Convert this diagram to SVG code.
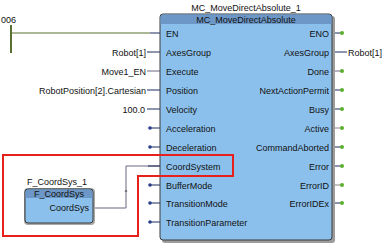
<svg xmlns="http://www.w3.org/2000/svg" width="392" height="248" viewBox="0 0 392 248">
  <style>
    text { font-family: "Liberation Sans", Arial, sans-serif; font-size: 9px; fill: #111; }
    .r { text-anchor: end; }
    .m { text-anchor: middle; }
    .body { fill: #8cc0ec; stroke: #3a3a3a; stroke-width: 1; }
    .shadow { fill: #9c9c9c; }
    .head { fill: #6c97c6; }
    .w { stroke: #1c2a5c; stroke-width: 1; fill: none; }
    .wg { stroke: #6e6480; stroke-width: 1; fill: none; }
    .in { fill: #2a3f8a; }
    .out { fill: #5cb02c; }
    .hl { fill: none; stroke: #e8201c; stroke-width: 2; }
  </style>

  <!-- power rail contact -->
  <g id="rail">
    <text x="1" y="23">006</text>
    <line x1="11" y1="25" x2="11" y2="53" stroke="#5a7032" stroke-width="2"/>
  </g>

  <!-- connectors -->
  <g id="connectors">
    <line x1="11" y1="33" x2="150" y2="33" stroke="#5a7032" stroke-width="1"/>
    <line x1="150" y1="33" x2="160" y2="33" class="w"/>
    <line x1="147" y1="52" x2="160" y2="52" class="w"/>
    <line x1="217" y1="52" x2="275" y2="52" class="w"/>
    <line x1="147" y1="71" x2="160" y2="71" class="wg"/>
    <line x1="147" y1="90" x2="160" y2="90" class="w"/>
    <line x1="147" y1="109" x2="160" y2="109" class="w"/>
    <line x1="150" y1="128" x2="160" y2="128" class="w"/>
    <line x1="150" y1="147" x2="160" y2="147" class="w"/>
    <line x1="150" y1="185" x2="160" y2="185" class="w"/>
    <line x1="150" y1="203" x2="160" y2="203" class="w"/>
    <line x1="150" y1="222" x2="160" y2="222" class="w"/>
    <circle cx="150" cy="128" r="1.8" class="in"/>
    <circle cx="150" cy="147" r="1.8" class="in"/>
    <circle cx="150" cy="185" r="1.8" class="in"/>
    <circle cx="150" cy="203" r="1.8" class="in"/>
    <circle cx="150" cy="222" r="1.8" class="in"/>
    <!-- F_CoordSys output to CoordSystem input -->
    <polyline points="93,208 126,208 126,166 160,166" class="wg"/>
    <line x1="148" y1="166" x2="160" y2="166" class="w"/>
    <path d="M125,192 L126,190 L127,192" fill="none" stroke="#333" stroke-width="0.6"/>
    <!-- outputs -->
    <line x1="333" y1="33" x2="342" y2="33" class="w"/>
    <line x1="333" y1="52" x2="347" y2="52" class="w"/>
    <line x1="333" y1="71" x2="342" y2="71" class="wg"/>
    <line x1="333" y1="90" x2="342" y2="90" class="w"/>
    <line x1="333" y1="109" x2="342" y2="109" class="w"/>
    <line x1="333" y1="128" x2="342" y2="128" stroke="#888" stroke-width="1"/>
    <line x1="333" y1="147" x2="342" y2="147" class="w"/>
    <line x1="333" y1="166" x2="342" y2="166" class="w"/>
    <line x1="333" y1="185" x2="342" y2="185" stroke="#888" stroke-width="1"/>
    <line x1="333" y1="203" x2="342" y2="203" class="w"/>
    <circle cx="342" cy="33" r="2" class="out"/>
    <circle cx="342" cy="71" r="2" class="out"/>
    <circle cx="342" cy="90" r="2" class="out"/>
    <circle cx="342" cy="109" r="2" class="out"/>
    <circle cx="342" cy="128" r="2" class="out"/>
    <circle cx="342" cy="147" r="2" class="out"/>
    <circle cx="342" cy="166" r="2" class="out"/>
    <circle cx="342" cy="185" r="2" class="out"/>
    <circle cx="342" cy="203" r="2" class="out"/>
  </g>

  <!-- input variables -->
  <g id="inputs">
    <text x="146" y="55.5" class="r">Robot[1]</text>
    <text x="146" y="74.5" class="r">Move1_EN</text>
    <text x="146" y="93.5" class="r">RobotPosition[2].Cartesian</text>
    <text x="145" y="112.5" class="r">100.0</text>
    <text x="348" y="55.5">Robot[1]</text>
  </g>

  <!-- main function block -->
  <g id="MC_MoveDirectAbsolute_1">
    <text x="246" y="11" class="m">MC_MoveDirectAbsolute_1</text>
    <rect x="162" y="16" width="173" height="227" rx="3" class="shadow"/>
    <rect x="160" y="14" width="172" height="226" rx="3" class="body"/>
    <path d="M163,14.5 H329 A2.5,2.5 0 0 1 331.5,17 V24 H160.5 V17 A2.5,2.5 0 0 1 163,14.5 Z" class="head"/>
    <text x="246" y="22.5" class="m">MC_MoveDirectAbsolute</text>
    <text x="166" y="36.5">EN</text>
    <text x="166" y="55.5">AxesGroup</text>
    <text x="166" y="74.5">Execute</text>
    <text x="166" y="93.5">Position</text>
    <text x="166" y="112.5">Velocity</text>
    <text x="166" y="131.5">Acceleration</text>
    <text x="166" y="150.5">Deceleration</text>
    <text x="166" y="169.5">CoordSystem</text>
    <text x="166" y="188.5">BufferMode</text>
    <text x="166" y="206.5">TransitionMode</text>
    <text x="166" y="225.5">TransitionParameter</text>
    <text x="329" y="36.5" class="r">ENO</text>
    <text x="329" y="55.5" class="r">AxesGroup</text>
    <text x="329" y="74.5" class="r">Done</text>
    <text x="329" y="93.5" class="r">NextActionPermit</text>
    <text x="329" y="112.5" class="r">Busy</text>
    <text x="329" y="131.5" class="r">Active</text>
    <text x="329" y="150.5" class="r">CommandAborted</text>
    <text x="329" y="169.5" class="r">Error</text>
    <text x="329" y="188.5" class="r">ErrorID</text>
    <text x="329" y="206.5" class="r">ErrorIDEx</text>
  </g>

  <!-- coordinate system function block -->
  <g id="F_CoordSys_1">
    <text x="57" y="185" class="m">F_CoordSys_1</text>
    <rect x="24" y="188" width="71" height="37" rx="4" fill="#a8a8a8"/>
    <rect x="25" y="189" width="68" height="34" rx="3" class="body"/>
    <path d="M28,189.5 H90 A2.5,2.5 0 0 1 92.5,192 V198 H25.5 V192 A2.5,2.5 0 0 1 28,189.5 Z" class="head"/>
    <text x="59" y="196.5" class="m">F_CoordSys</text>
    <text x="89" y="211" class="r">CoordSys</text>
  </g>

  <!-- highlight outline -->
  <g id="highlight">
    <polygon points="3,155 233,155 233,176 138,176 138,236 3,236" class="hl"/>
  </g>
</svg>
